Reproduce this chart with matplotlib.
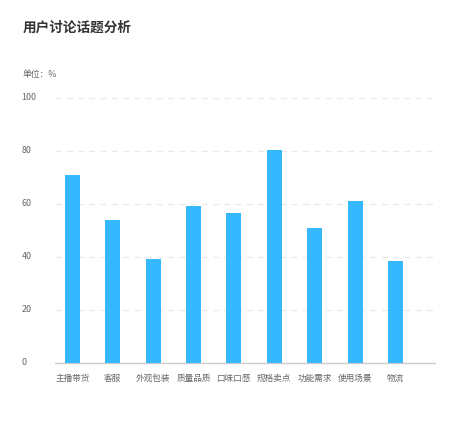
import matplotlib
matplotlib.use("Agg")
import matplotlib.pyplot as plt
from matplotlib.transforms import blended_transform_factory

plt.rcParams['font.family'] = ['Noto Sans CJK SC', 'DejaVu Sans']

categories = ["主播带货", "客服", "外观包装", "质量品质", "口味口感", "规格卖点", "功能需求", "使用场景", "物流"]
values = [71, 54, 39, 59, 56.5, 80.3, 51, 61, 38.3]
yticks = [0, 20, 40, 60, 80, 100]

W, H = 458, 426
fig = plt.figure(figsize=(W / 100, H / 100), dpi=100)
left, right, bottom_px, top_px = 55, 435, 362.7, 97.7
ax = fig.add_axes([left / W, (H - bottom_px) / H, (right - left) / W, (bottom_px - top_px) / H])

x = list(range(len(categories)))
ax.bar(x, values, width=0.37, color="#36b8ff", zorder=3)
ax.set_xlim(-0.43, 8.98)
ax.set_ylim(0, 100)

for s in ["top", "right", "left"]:
    ax.spines[s].set_visible(False)
ax.spines["bottom"].set_color("#cccccc")
ax.spines["bottom"].set_linewidth(1)

ax.set_yticks(yticks)
ax.set_yticklabels([])
ax.tick_params(axis="y", length=0)
for t in yticks[1:]:
    ax.axhline(t, color="#e9e9e9", linestyle=(0, (5, 4)), linewidth=0.9, zorder=1)

trans = blended_transform_factory(fig.transFigure, ax.transData)
for t in yticks:
    ax.text(21.5 / W, t, str(t), transform=trans, ha="left", va="center",
            fontsize=6.4, color="#666666")

ax.set_xticks(x)
ax.set_xticklabels(categories, fontsize=6.2, color="#666666")
ax.tick_params(axis="x", length=0, pad=8)

fig.text(22.5 / W, 1 - 27.5 / H, "用户讨论话题分析", fontsize=9.8, fontweight="bold",
         color="#333333", ha="left", va="center")
fig.text(22.3 / W, 1 - 75 / H, "单位：%", fontsize=6.3, color="#666666",
         ha="left", va="center")

fig.savefig("out.png", dpi=100, facecolor="white")
